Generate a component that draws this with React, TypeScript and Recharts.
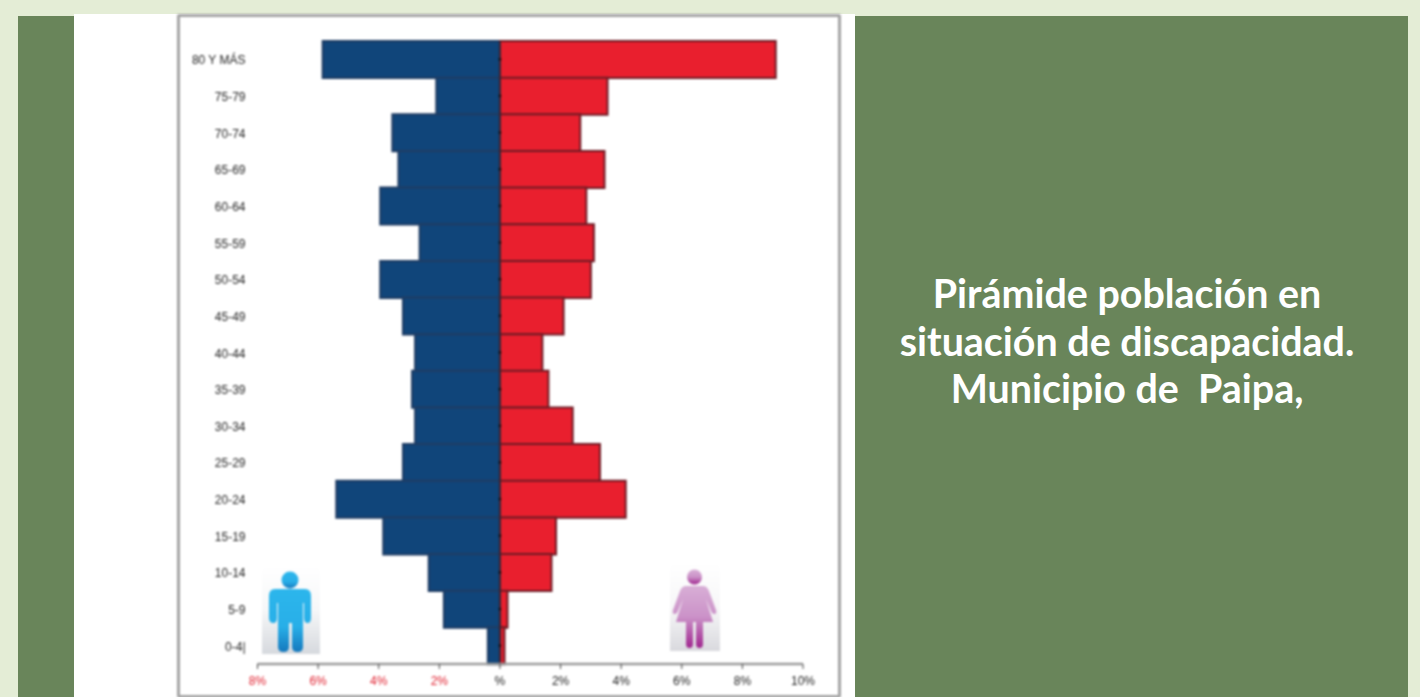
import { Bar, BarChart, ReferenceDot, ReferenceLine, XAxis, YAxis } from "recharts";

const ageGroups = ["80 Y MÁS", "75-79", "70-74", "65-69", "60-64", "55-59", "50-54", "45-49", "40-44", "35-39", "30-34", "25-29", "20-24", "15-19", "10-14", "5-9", "0-4|"];
const men = [-5.85, -2.1, -3.55, -3.35, -3.95, -2.65, -3.95, -3.2, -2.8, -2.9, -2.8, -3.2, -5.4, -3.85, -2.35, -1.85, -0.4];
const women = [9.1, 3.55, 2.65, 3.45, 2.85, 3.1, 3.0, 2.1, 1.4, 1.6, 2.4, 3.3, 4.15, 1.85, 1.7, 0.25, 0.15];
const xTicks = [-8, -6, -4, -2, 0, 2, 4, 6, 8, 10];
const titleLines = ["Pirámide población en", "situación de discapacidad.", "Municipio de  Paipa,"];

const data = ageGroups.map((age, i) => ({ age, men: men[i], women: women[i] }));

const chartFont = "'Liberation Sans', sans-serif";

function PercentTick({ x, y, payload }: any) {
  const v = payload.value as number;
  return (
    <text x={x} y={y + 14} textAnchor="middle" fontFamily={chartFont} fontSize={12} fill={v < 0 ? "#e0202f" : "#222"}>
      {v === 0 ? "%" : `${Math.abs(v)}%`}
    </text>
  );
}

function AgeTick({ x, y, payload }: any) {
  return (
    <text x={x} y={y + 5} textAnchor="end" fontFamily={chartFont} fontSize={12} fill="#222">
      {payload.value}
    </text>
  );
}

function Man() {
  return (
    <svg width={58} height={87} style={{ position: "absolute", left: 262, top: 567 }}>
      <defs>
        <linearGradient id="manBg" x1="0" y1="0" x2="0" y2="1">
          <stop offset="0" stopColor="#fff" />
          <stop offset="0.5" stopColor="#f6f7f8" />
          <stop offset="1" stopColor="#d6d9de" />
        </linearGradient>
        <linearGradient id="manFill" x1="0" y1="0" x2="0" y2="1">
          <stop offset="0" stopColor="#2cb6ec" />
          <stop offset="0.6" stopColor="#28afe8" />
          <stop offset="1" stopColor="#1478bd" />
        </linearGradient>
      </defs>
      <rect width={58} height={87} fill="url(#manBg)" />
      <circle cx={28} cy={13} r={8.5} fill="url(#manFill)" />
      <path d="M13 22 H43 Q49 22 49 29 V51 Q49 56 45.5 56 Q42 56 42 51 V36 H41 V80 Q41 85 35.5 85 Q30 85 30 80 V56 H27 V80 Q27 85 21.5 85 Q16 85 16 80 V36 H15 V51 Q15 56 11.5 56 Q7 56 7 51 V29 Q7 22 13 22 Z" fill="url(#manFill)" />
    </svg>
  );
}

function Woman() {
  return (
    <svg width={50} height={87} style={{ position: "absolute", left: 670, top: 564 }}>
      <defs>
        <linearGradient id="womanBg" x1="0" y1="0" x2="0" y2="1">
          <stop offset="0" stopColor="#fff" />
          <stop offset="0.5" stopColor="#f7f7f8" />
          <stop offset="1" stopColor="#d9d9de" />
        </linearGradient>
        <linearGradient id="womanFill" x1="0" y1="0" x2="0" y2="1">
          <stop offset="0" stopColor="#d8aed6" />
          <stop offset="0.5" stopColor="#cb92c8" />
          <stop offset="1" stopColor="#a0268f" />
        </linearGradient>
      </defs>
      <rect width={50} height={87} fill="url(#womanBg)" />
      <circle cx={24.5} cy={13} r={7.5} fill="url(#womanFill)" />
      <path d="M16 22 H33 Q37 22 39 27 L46 46 Q47 50 44.5 50 Q42 50 41 47 L36 35 L43 58 H33 V80 Q33 84 29.5 84 Q26 84 26 80 V58 H23 V80 Q23 84 19.5 84 Q16 84 16 80 V58 H6 L13 35 L8 47 Q7 50 4.5 50 Q2 50 3 46 L10 27 Q12 22 16 22 Z" fill="url(#womanFill)" />
    </svg>
  );
}

export default function App() {
  return (
    <div style={{ position: "absolute", left: 0, top: 0, width: 1420, height: 697, overflow: "hidden", background: "#e4edd6" }}>
      <div style={{ position: "absolute", left: 18, top: 16, width: 56, height: 681, background: "#69855a" }} />
      <div style={{ position: "absolute", left: 74, top: 14, width: 781, height: 683, background: "#fff" }} />
      <div style={{ position: "absolute", left: 855, top: 16, width: 553, height: 681, background: "#69855a" }} />

      <div style={{ position: "absolute", left: 0, top: 0, width: 1420, height: 697, filter: "blur(0.8px)" }}>
        <div style={{ position: "absolute", left: 177, top: 14, width: 658, height: 678, border: "3px solid #a3a3a3", borderRadius: 2 }} />
        <div style={{ position: "absolute", left: 178, top: 14 }}>
          <BarChart
            width={661}
            height={681}
            layout="vertical"
            data={data}
            stackOffset="sign"
            barCategoryGap={0}
            margin={{ top: 27, right: 36, bottom: 0, left: 0 }}
          >
            <XAxis
              type="number"
              domain={[-8, 10]}
              ticks={xTicks}
              interval={0}
              height={31}
              tick={<PercentTick />}
              tickSize={5}
              axisLine={{ stroke: "#9a9a9a", strokeWidth: 2.5 }}
              tickLine={{ stroke: "#444" }}
            />
            <YAxis
              type="category"
              dataKey="age"
              width={79.5}
              interval={0}
              tickSize={0}
              tickMargin={12}
              axisLine={false}
              tick={<AgeTick />}
            />
            <Bar dataKey="men" stackId="a" fill="#10457a" stroke="#1f3c63" strokeWidth={2} isAnimationActive={false} />
            <Bar dataKey="women" stackId="a" fill="#e91f2e" stroke="#6e1a24" strokeWidth={2} isAnimationActive={false} />
            <ReferenceLine x={0} stroke="#2a2a3a" strokeWidth={1.5} />
            {ageGroups.map((age) => (
              <ReferenceDot key={age} x={0} y={age} r={1.4} fill="#111" stroke="none" />
            ))}
          </BarChart>
        </div>
        <Man />
        <Woman />
      </div>

      <div
        style={{
          position: "absolute",
          left: 854,
          top: 269,
          width: 546,
          textAlign: "center",
          color: "#fff",
          fontFamily: "Lato, sans-serif",
          fontWeight: 700,
          fontSize: 39.4,
          lineHeight: "47.5px",
          whiteSpace: "pre",
        }}
      >
        {titleLines.map((line) => (
          <div key={line}>{line}</div>
        ))}
      </div>
    </div>
  );
}
